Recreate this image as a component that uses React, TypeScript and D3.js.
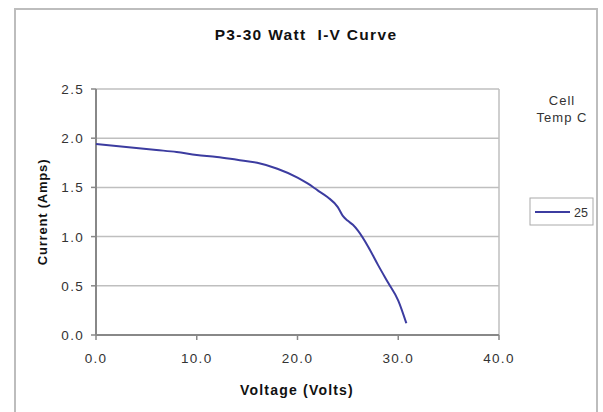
import React from "react";
import * as d3 from "d3";

const voltage = [0, 2, 4, 6, 8, 10, 12, 14, 16, 18, 20, 21, 22, 23, 24, 24.5, 25, 25.5, 26, 27, 28, 29, 30, 30.8];
const current = [1.94, 1.92, 1.9, 1.88, 1.86, 1.83, 1.81, 1.78, 1.75, 1.69, 1.6, 1.54, 1.47, 1.4, 1.3, 1.21, 1.16, 1.12, 1.06, 0.9, 0.71, 0.53, 0.35, 0.12];
const xTicks = [0, 10, 20, 30, 40];
const yTicks = [0, 0.5, 1.0, 1.5, 2.0, 2.5];
const seriesName = "25";

export default function App() {
  const W = 603, H = 412;
  const left = 96, right = 499, top = 89, bottom = 335;
  const x = d3.scaleLinear().domain([0, 40]).range([left, right]);
  const y = d3.scaleLinear().domain([0, 2.5]).range([bottom, top]);
  const pts = voltage.map((v, i) => [v, current[i]] as [number, number]);
  const line = d3.line<[number, number]>().x(d => x(d[0])).y(d => y(d[1])).curve(d3.curveMonotoneX);
  const font = "'Liberation Sans', Arial, sans-serif";
  return (
    <svg width={W} height={H} style={{ position: "absolute", left: 0, top: 0 }} fontFamily={font}>
      <rect x={0} y={0} width={W} height={H} fill="#fff" />
      <path d={`M15,${H} V9 H597 V${H}`} fill="none" stroke="#bdbdbd" strokeWidth={2} />
      <text x={306} y={40} textAnchor="middle" fontSize={15.5} fontWeight="bold" letterSpacing={1.3} fill="#111" style={{ whiteSpace: "pre" }}>P3-30 Watt  I-V Curve</text>
      {yTicks.map(t => (
        <g key={t}>
          {t > 0 && <line x1={left} x2={right} y1={y(t)} y2={y(t)} stroke="#bfbfbf" strokeWidth={1.5} />}
          <line x1={left - 5} x2={left} y1={y(t)} y2={y(t)} stroke="#888" strokeWidth={1.5} />
          <text x={84} y={y(t) + 5} textAnchor="end" fontSize={13.5} letterSpacing={1.3} fill="#333">{t.toFixed(1)}</text>
        </g>
      ))}
      <line x1={right} x2={right} y1={top} y2={bottom} stroke="#bfbfbf" strokeWidth={1.5} />
      {xTicks.map(t => (
        <g key={t}>
          <line x1={x(t)} x2={x(t)} y1={bottom} y2={bottom + 5} stroke="#888" strokeWidth={1.5} />
          <text x={x(t)} y={363} textAnchor="middle" fontSize={13.5} letterSpacing={1.3} fill="#333">{t.toFixed(1)}</text>
        </g>
      ))}
      <line x1={left} x2={left} y1={top} y2={bottom} stroke="#888" strokeWidth={2} />
      <line x1={left} x2={right} y1={bottom} y2={bottom} stroke="#888" strokeWidth={2} />
      <path d={line(pts) || ""} fill="none" stroke="#3c3ca0" strokeWidth={2} />
      <text x={297} y={395} textAnchor="middle" fontSize={14} fontWeight="bold" letterSpacing={1.2} fill="#111">Voltage (Volts)</text>
      <text transform={`translate(47,${(top + bottom) / 2}) rotate(-90)`} textAnchor="middle" fontSize={13} fontWeight="bold" letterSpacing={0.8} fill="#111">Current (Amps)</text>
      <text x={562} y={105} textAnchor="middle" fontSize={13} letterSpacing={1} fill="#333">Cell</text>
      <text x={562} y={122} textAnchor="middle" fontSize={13} letterSpacing={1} fill="#333">Temp C</text>
      <rect x={530} y={198} width={63} height={27} fill="#fff" stroke="#aaa" strokeWidth={1} />
      <line x1={535} x2={570} y1={212} y2={212} stroke="#3c3ca0" strokeWidth={2} />
      <text x={574} y={217} fontSize={12.5} fill="#333">{seriesName}</text>
    </svg>
  );
}
